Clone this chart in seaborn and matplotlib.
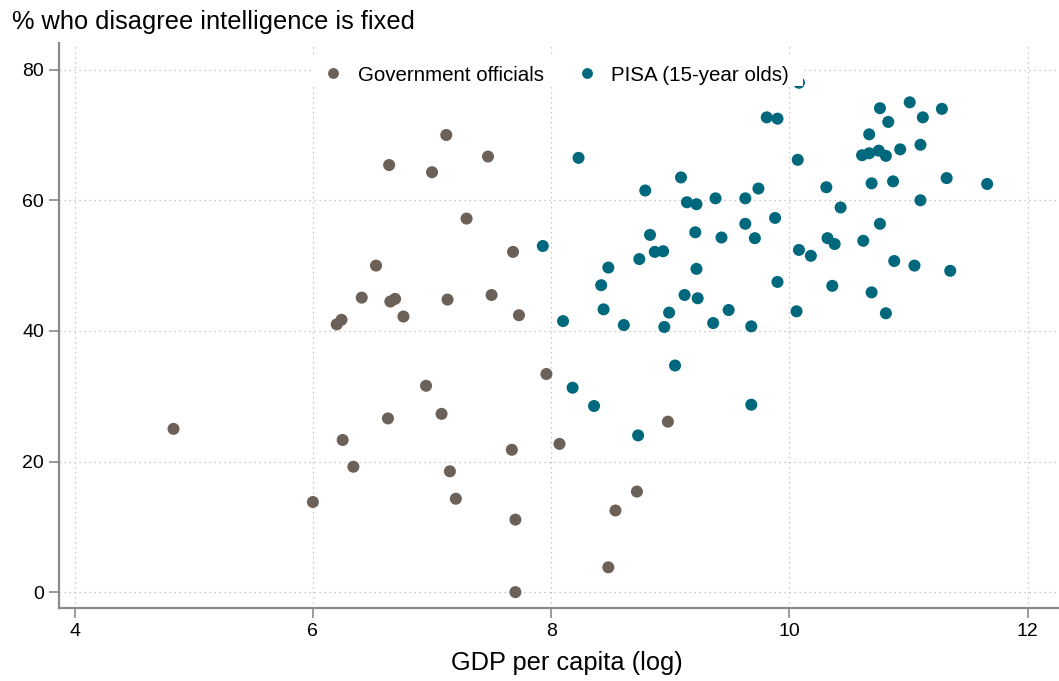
import pandas as pd
import matplotlib
matplotlib.use("Agg")
import matplotlib.pyplot as plt
from matplotlib.patches import Rectangle
import seaborn as sns

# Government officials: log GDP per capita, % who disagree intelligence is fixed
gov_gdp = [7.12, 6.64, 7.00, 7.47, 7.29, 7.68, 6.53, 6.41, 6.65, 6.69, 7.13, 7.50,
           6.76, 7.73, 6.20, 6.24, 4.83, 6.95, 7.08, 6.63, 6.25, 6.34, 7.15, 7.20,
           6.00, 7.67, 7.70, 7.70, 7.96, 8.07, 8.98, 8.72, 8.54, 8.48]
gov_pct = [70.0, 65.4, 64.3, 66.7, 57.2, 52.1, 50.0, 45.1, 44.5, 44.9, 44.8, 45.5,
           42.2, 42.4, 41.0, 41.7, 25.0, 31.6, 27.3, 26.6, 23.3, 19.2, 18.5, 14.3,
           13.8, 21.8, 11.1, 0.0, 33.4, 22.7, 26.1, 15.4, 12.5, 3.8]

# PISA (15-year olds)
pisa_gdp = [8.23, 9.81, 9.90, 11.01, 10.76, 11.28, 11.12, 10.83, 10.67, 10.07,
            10.61, 10.67, 10.75, 10.81, 10.93, 11.10, 9.09, 8.79, 9.74, 10.69,
            10.87, 10.31, 11.32, 11.66, 9.14, 9.22, 9.38, 9.63, 11.10, 10.43,
            10.76, 9.63, 9.88, 9.21, 8.83, 9.43, 9.71, 10.32, 10.38, 10.62,
            7.93, 10.08, 8.87, 8.94, 10.18, 8.74, 8.48, 9.22, 10.88, 11.05,
            11.35, 9.90, 8.42, 10.36, 10.69, 9.12, 9.23, 8.44, 9.49, 10.06,
            10.81, 8.99, 8.10, 8.61, 8.95, 9.36, 9.68, 10.08,
            9.04, 8.18, 8.36, 9.68, 8.73]
pisa_pct = [66.5, 72.7, 72.5, 75.0, 74.1, 74.0, 72.7, 72.0, 70.1, 66.2,
            66.9, 67.2, 67.6, 66.8, 67.8, 68.5, 63.5, 61.5, 61.8, 62.6,
            62.9, 62.0, 63.4, 62.5, 59.7, 59.4, 60.3, 60.3, 60.0, 58.9,
            56.4, 56.4, 57.3, 55.1, 54.7, 54.3, 54.2, 54.2, 53.3, 53.8,
            53.0, 52.4, 52.1, 52.2, 51.5, 51.0, 49.7, 49.5, 50.7, 50.0,
            49.2, 47.5, 47.0, 46.9, 45.9, 45.5, 45.0, 43.3, 43.2, 43.0,
            42.7, 42.8, 41.5, 40.9, 40.6, 41.2, 40.7, 78.0,
            34.7, 31.3, 28.5, 28.7, 24.0]

groups = ["Government officials", "PISA (15-year olds)"]
colors = ["#6b6158", "#00687d"]

df = pd.concat([
    pd.DataFrame({"gdp": gov_gdp, "pct": gov_pct, "group": groups[0]}),
    pd.DataFrame({"gdp": pisa_gdp, "pct": pisa_pct, "group": groups[1]}),
])

sns.set_style("white")
plt.rcParams["font.family"] = ["Liberation Sans", "DejaVu Sans"]
plt.rcParams["text.color"] = "black"
plt.rcParams["xtick.labelcolor"] = "black"
plt.rcParams["ytick.labelcolor"] = "black"
plt.rcParams["axes.labelcolor"] = "black"

fig = plt.figure(figsize=(10.59, 6.81), dpi=100)
ax = fig.add_axes([0.0554, 0.107, 0.96, 0.83])

sns.scatterplot(data=df, x="gdp", y="pct", hue="group", hue_order=groups,
                palette=colors, s=75, linewidth=0, ax=ax, zorder=3)

ax.set_xlim(3.866, 12.40)
ax.set_ylim(-2.45, 84.1)
ax.set_xticks([4, 6, 8, 10, 12])
ax.set_yticks([0, 20, 40, 60, 80])
ax.grid(True, linestyle=(0, (1, 3)), color="#b8b8b8", linewidth=0.9)
ax.set_axisbelow(True)

for side in ["top", "right"]:
    ax.spines[side].set_visible(False)
for side in ["left", "bottom"]:
    ax.spines[side].set_color("#8a8a8a")
    ax.spines[side].set_linewidth(1.6)
ax.tick_params(axis="both", direction="out", length=7, width=1.2,
               color="#8a8a8a", labelsize=14, left=True, bottom=True)

ax.set_xlabel("GDP per capita (log)", fontsize=18.3, labelpad=8)
ax.set_ylabel("")
fig.text(0.011, 0.968, "% who disagree intelligence is fixed", fontsize=18.3,
         ha="left", va="center")

# white legend box (wider than the legend text, hides marks behind it)
ax.add_patch(Rectangle((0.249, 0.924), 0.483, 0.052, transform=ax.transAxes,
                       facecolor="white", edgecolor="none", zorder=4))

leg = ax.legend(loc="upper center", bbox_to_anchor=(0.484, 1.0), ncol=2,
                fontsize=14.8, frameon=False,
                handletextpad=0.2, columnspacing=1.1, markerscale=0.9,
                borderpad=0.6)
leg.set_zorder(5)

fig.savefig("out.png", dpi=100)
